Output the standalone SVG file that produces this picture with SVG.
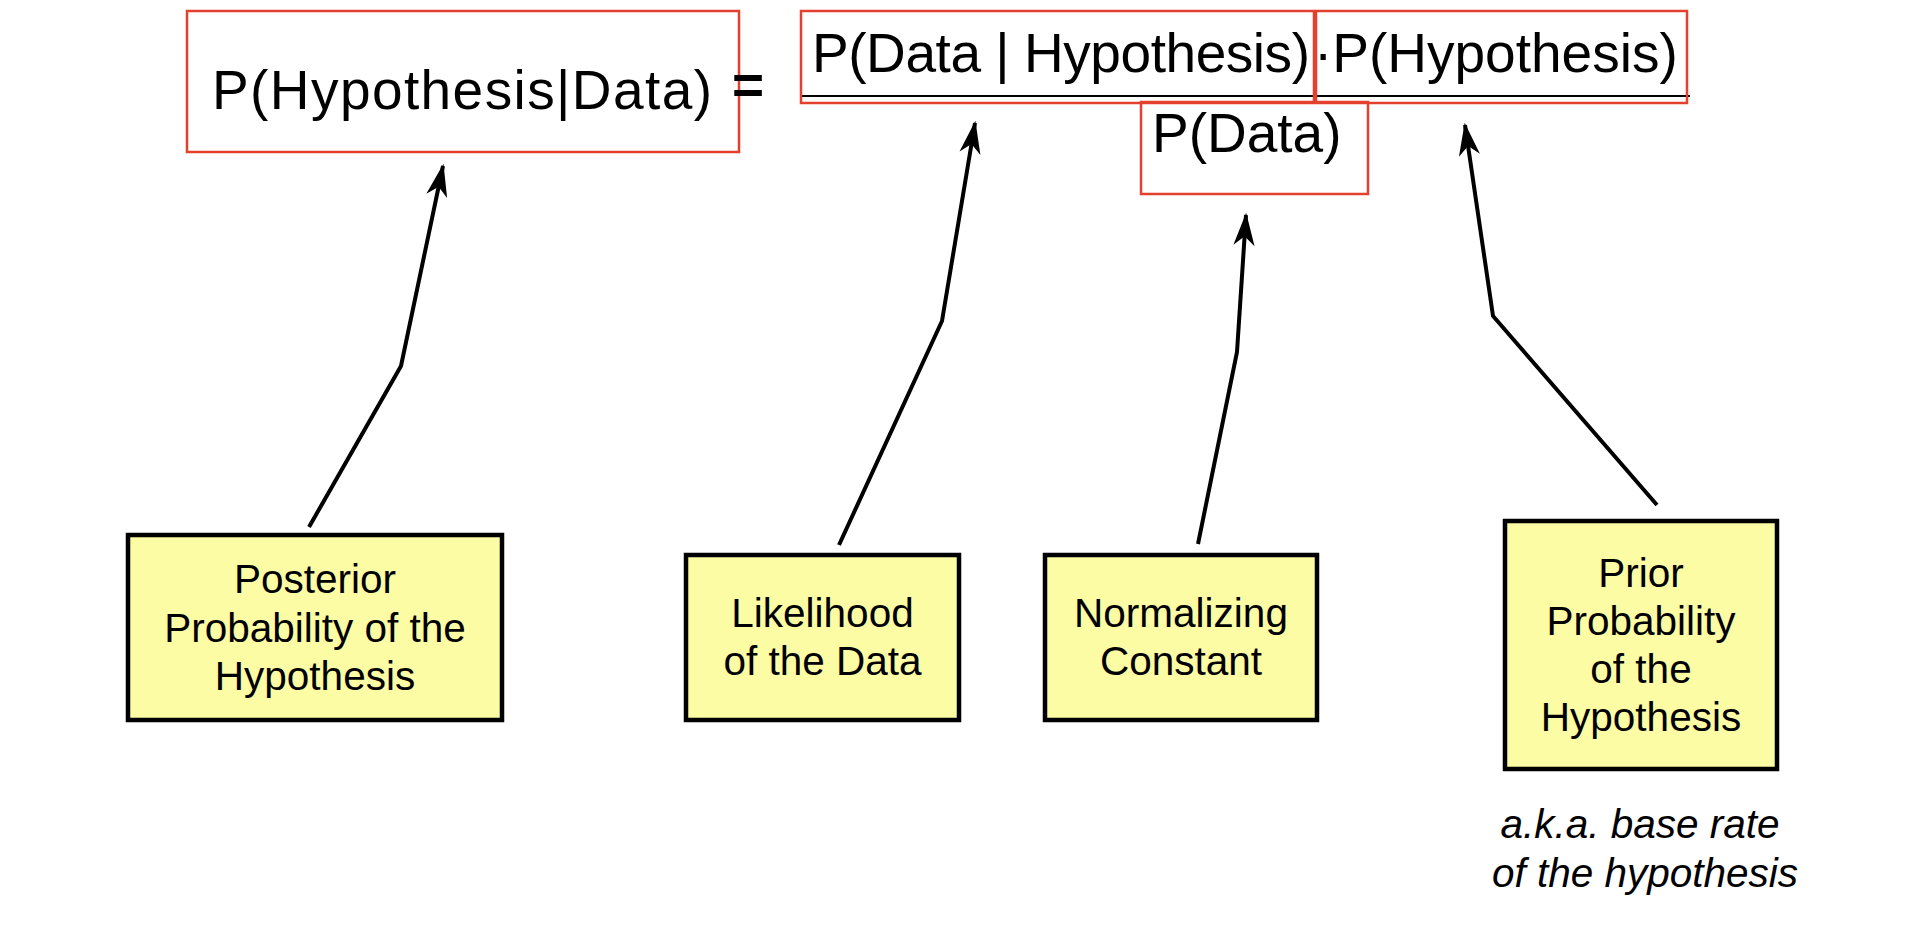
<svg xmlns="http://www.w3.org/2000/svg" width="1926" height="941" viewBox="0 0 1926 941">
<style>
.frm{font-family:"Liberation Sans",Arial,sans-serif;font-size:55px;fill:#000}
.rbox{fill:none;stroke:#e3402e;stroke-width:2.5}
.ybox{fill:#fcfca4;stroke:#000;stroke-width:4.5}
.lbl{font-family:"Liberation Sans",Arial,sans-serif;font-size:40.5px;fill:#000;text-anchor:middle}
.note{font-family:"Liberation Sans",Arial,sans-serif;font-size:40.5px;font-style:italic;fill:#000;text-anchor:middle}
.conn{fill:none;stroke:#000;stroke-width:4;marker-end:url(#arr)}
</style>
<defs>
<marker id="arr" markerUnits="userSpaceOnUse" markerWidth="40" markerHeight="40" viewBox="-30 -15 34 30" refX="0" refY="0" orient="auto">
<path d="M2,0 L-26,-9 L-18,0 L-26,9 Z" fill="#000"/>
</marker>
</defs>
<rect width="1926" height="941" fill="#fff"/>
<g id="formula">
<g id="posterior-term">
<rect class="rbox" x="187" y="11" width="552" height="141"/>
<text class="frm" x="212" y="108.5" textLength="500" lengthAdjust="spacing">P(Hypothesis|Data)</text>
</g>
<text class="frm" x="732" y="104" font-weight="bold">=</text>
<line x1="800" y1="96" x2="1690" y2="96" stroke="#000" stroke-width="2"/>
<g id="likelihood-term">
<rect class="rbox" x="801" y="11" width="513" height="92"/>
<text class="frm" x="812" y="72" textLength="498" lengthAdjust="spacing">P(Data | Hypothesis)</text>
</g>
<g id="prior-term">
<rect class="rbox" x="1316" y="11" width="371" height="92"/>
<text class="frm" x="1314" y="72">·P(Hypothesis)</text>
</g>
<g id="evidence-term">
<rect class="rbox" x="1141" y="102" width="227" height="92"/>
<text class="frm" x="1152" y="151.7">P(Data)</text>
</g>
</g>
<g id="connectors">
<polyline class="conn" points="309,527 401,366 443,166"/>
<polyline class="conn" points="839,545 942,321 975,123"/>
<polyline class="conn" points="1198,544 1237,352 1246,215"/>
<polyline class="conn" points="1657,505 1493,316 1465,125"/>
</g>
<g id="node-posterior">
<rect class="ybox" x="128" y="535" width="374" height="185"/>
<text class="lbl" x="315" y="593">Posterior</text>
<text class="lbl" x="315" y="642">Probability of the</text>
<text class="lbl" x="315" y="690">Hypothesis</text>
</g>
<g id="node-likelihood">
<rect class="ybox" x="686" y="555" width="273" height="165"/>
<text class="lbl" x="822.5" y="627">Likelihood</text>
<text class="lbl" x="822.5" y="675">of the Data</text>
</g>
<g id="node-normalizing">
<rect class="ybox" x="1045" y="555" width="272" height="165"/>
<text class="lbl" x="1181" y="627">Normalizing</text>
<text class="lbl" x="1181" y="675">Constant</text>
</g>
<g id="node-prior">
<rect class="ybox" x="1505" y="521" width="272" height="248"/>
<text class="lbl" x="1641" y="587">Prior</text>
<text class="lbl" x="1641" y="635">Probability</text>
<text class="lbl" x="1641" y="683">of the</text>
<text class="lbl" x="1641" y="731">Hypothesis</text>
</g>
<g id="note-base-rate">
<text class="note" x="1640" y="838">a.k.a. base rate</text>
<text class="note" x="1645" y="887">of the hypothesis</text>
</g>
</svg>
